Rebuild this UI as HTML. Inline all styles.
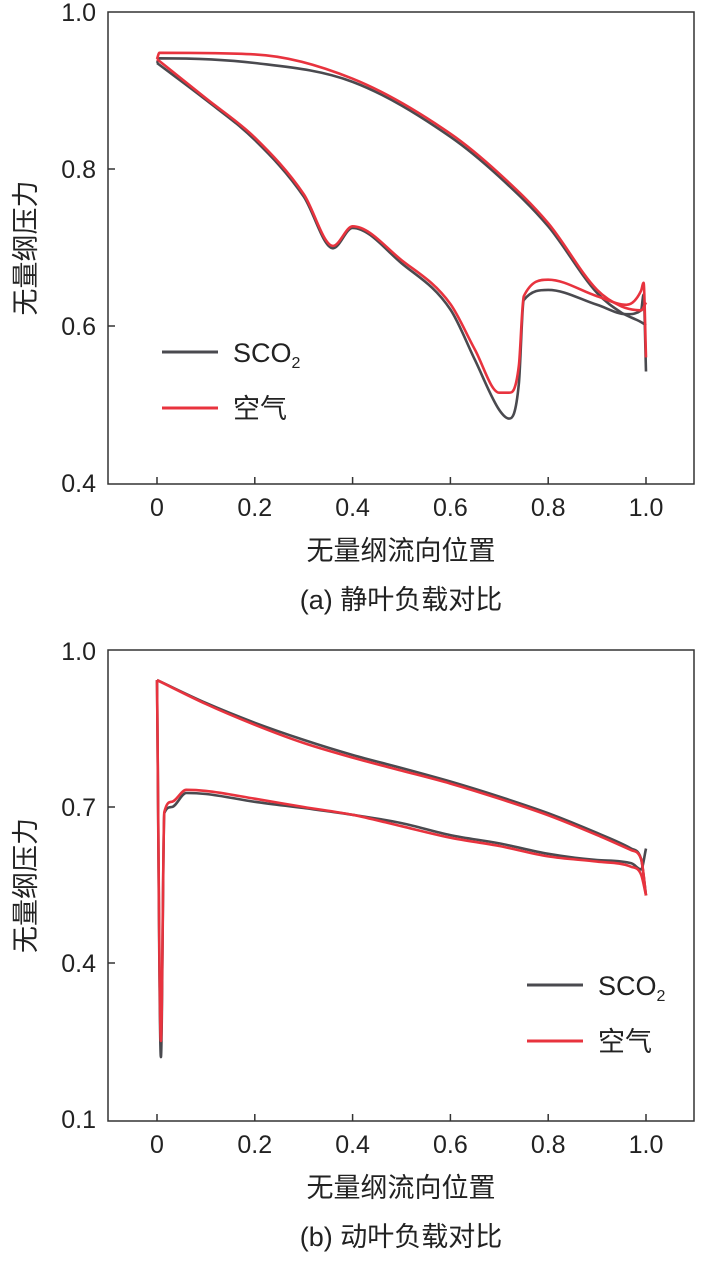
<!DOCTYPE html>
<html><head><meta charset="utf-8"><style>
body{margin:0;background:#fff;width:706px;height:1260px;overflow:hidden}
svg text{font-family:"Liberation Sans","Noto Sans CJK SC",sans-serif;fill:#222}
</style></head><body>
<svg id="s" width="706" height="1260" xmlns="http://www.w3.org/2000/svg"></svg>
<script>
const xTicks=[0,0.2,0.4,0.6,0.8,1.0];
const xTickLabels=["0","0.2","0.4","0.6","0.8","1.0"];
const aYTicks=[0.4,0.6,0.8,1.0];
const aYTickLabels=["0.4","0.6","0.8","1.0"];
const bYTicks=[0.1,0.4,0.7,1.0];
const bYTickLabels=["0.1","0.4","0.7","1.0"];
// chart (a) stator
const aUpX=[0,0.005,0.2,0.4,0.6,0.7,0.8,0.9,0.95,0.99,1.0];
const aSco2Up=[0.935,0.941,0.935,0.911,0.841,0.79,0.727,0.642,0.617,0.605,0.601];
const aAirUp=[0.94,0.948,0.946,0.915,0.845,0.794,0.731,0.646,0.625,0.62,0.63];
const aLowX=[0,0.1,0.2,0.3,0.36,0.4,0.5,0.6,0.65,0.7,0.72,0.74,0.75,0.8,0.9,0.96,0.99,0.995,1.0];
const aSco2Low=[0.935,0.888,0.837,0.765,0.699,0.725,0.68,0.621,0.557,0.493,0.482,0.527,0.633,0.646,0.627,0.615,0.62,0.64,0.542];
const aAirLow=[0.94,0.89,0.84,0.768,0.702,0.727,0.684,0.628,0.57,0.515,0.515,0.55,0.638,0.659,0.638,0.627,0.645,0.655,0.56];
// chart (b) rotor
const bUpX=[0,0.1,0.2,0.3,0.4,0.5,0.6,0.7,0.8,0.9,0.97,0.99,1.0];
const bSco2Up=[0.944,0.9,0.862,0.829,0.8,0.775,0.749,0.72,0.688,0.65,0.62,0.6,0.53];
const bAirUp=[0.944,0.898,0.858,0.823,0.795,0.77,0.745,0.716,0.684,0.646,0.617,0.6,0.53];
const bLowX=[0,0.008,0.015,0.03,0.06,0.1,0.2,0.3,0.4,0.5,0.6,0.7,0.8,0.9,0.97,0.99,1.0];
const bSco2Low=[0.944,0.219,0.688,0.7,0.727,0.725,0.71,0.698,0.685,0.669,0.646,0.63,0.61,0.598,0.592,0.58,0.62];
const bAirLow=[0.944,0.25,0.69,0.71,0.733,0.731,0.716,0.7,0.685,0.663,0.641,0.625,0.605,0.595,0.585,0.57,0.53];

const svg=document.getElementById('s');const NS="http://www.w3.org/2000/svg";
function mk(tag,attrs,parent){const e=document.createElementNS(NS,tag);for(const k in attrs)e.setAttribute(k,attrs[k]);(parent||svg).appendChild(e);return e;}
// monotone cubic (Fritsch-Carlson) in screen coords, x increasing
function path(p){const n=p.length;const d=[],m=[];
 for(let i=0;i<n-1;i++)d.push((p[i+1][1]-p[i][1])/(p[i+1][0]-p[i][0]));
 m[0]=d[0];m[n-1]=d[n-2];
 for(let i=1;i<n-1;i++){m[i]=(d[i-1]*d[i]<=0)?0:(d[i-1]+d[i])/2;}
 for(let i=0;i<n-1;i++){if(d[i]===0){m[i]=0;m[i+1]=0;continue;}const a=m[i]/d[i],b=m[i+1]/d[i],s=a*a+b*b;if(s>9){const t=3/Math.sqrt(s);m[i]=t*a*d[i];m[i+1]=t*b*d[i];}}
 let s="M"+p[0][0].toFixed(1)+","+p[0][1].toFixed(1);
 for(let i=0;i<n-1;i++){const h=(p[i+1][0]-p[i][0])/3;
  s+=" C"+(p[i][0]+h).toFixed(1)+","+(p[i][1]+m[i]*h).toFixed(1)+" "+(p[i+1][0]-h).toFixed(1)+","+(p[i+1][1]-m[i+1]*h).toFixed(1)+" "+p[i+1][0].toFixed(1)+","+p[i+1][1].toFixed(1);}
 return s;}
function chart(o){
 const xs=v=>157+v*489, ys=v=>o.y0+(o.ymax-v)/(o.ymax-o.ymin)*(o.y1-o.y0);
 const g=mk('g',{});
 
 
 const r=mk('rect',{x:108,y:o.top,width:586,height:o.bot-o.top,fill:'none',stroke:'#333','stroke-width':1.5},g);
 
 
 xTicks.forEach((t,i)=>{const l=mk('line',{x1:xs(t),x2:xs(t),y1:o.bot,y2:o.bot-7,stroke:'#333','stroke-width':1.5},g);
  
  
  const tx=mk('text',{x:xs(t),y:o.bot+32,'text-anchor':'middle','font-size':25},g);tx.textContent=xTickLabels[i];
  
  });
 o.yt.forEach((t,i)=>{const y=ys(t);
  if(y>o.top+2&&y<o.bot-2){const l=mk('line',{x1:108,x2:115,y1:y,y2:y,stroke:'#333','stroke-width':1.5},g);
  
  }
  const tx=mk('text',{x:96,y:y+9,'text-anchor':'end','font-size':25},g);tx.textContent=o.yl[i];
  
  });
 const series=[[o.upX,o.sUp,o.lowX,o.sLow,'#4a4a4f','sco2-line'],[o.upX,o.aUp,o.lowX,o.aLow,'#e8333e','air-line']];
 series.forEach(s=>{const pu=s[0].map((x,i)=>[xs(x),ys(s[1][i])]);const pl=s[2].map((x,i)=>[xs(x),ys(s[3][i])]);
  const p1=mk('path',{d:path(pu),fill:'none',stroke:s[4],'stroke-width':2.6},g);
  
  
  const p2=mk('path',{d:path(pl),fill:'none',stroke:s[4],'stroke-width':2.6},g);
  
  });
 const yt=mk('text',{x:0,y:0,'font-size':27,'text-anchor':'middle',transform:`translate(35,${(o.top+o.bot)/2}) rotate(-90)`},g);yt.textContent="无量纲压力";
 
 
 const xt=mk('text',{x:401,y:o.bot+76,'font-size':27,'text-anchor':'middle'},g);xt.textContent="无量纲流向位置";
 
 
 const cp=mk('text',{x:401,y:o.bot+125,'font-size':27,'text-anchor':'middle'},g);cp.textContent=o.cap;
 
 
 [['#4a4a4f','SCO',0],['#e8333e','空气',56]].forEach(L=>{const y=o.ly+L[2];
  const ln=mk('line',{x1:o.lx,x2:o.lx+56,y1:y,y2:y,stroke:L[0],'stroke-width':3},g);
  
  
  const t=mk('text',{x:o.lx+71,y:y+10,'font-size':27},g);t.textContent=L[1];
  
  
  if(L[2]===0){const sb=mk('tspan',{'font-size':16,dy:6},t);sb.textContent="2";}});
}
chart({name:'stator-chart',top:12,bot:484,y0:12,y1:483,ymin:0.4,ymax:1.0,yt:aYTicks,yl:aYTickLabels,upX:aUpX,sUp:aSco2Up,aUp:aAirUp,lowX:aLowX,sLow:aSco2Low,aLow:aAirLow,cap:"(a) 静叶负载对比",lx:162,ly:352});
chart({name:'rotor-chart',top:650,bot:1121,y0:651,y1:1119,ymin:0.1,ymax:1.0,yt:bYTicks,yl:bYTickLabels,upX:bUpX,sUp:bSco2Up,aUp:bAirUp,lowX:bLowX,sLow:bSco2Low,aLow:bAirLow,cap:"(b) 动叶负载对比",lx:527,ly:985});
</script>
</body></html>
